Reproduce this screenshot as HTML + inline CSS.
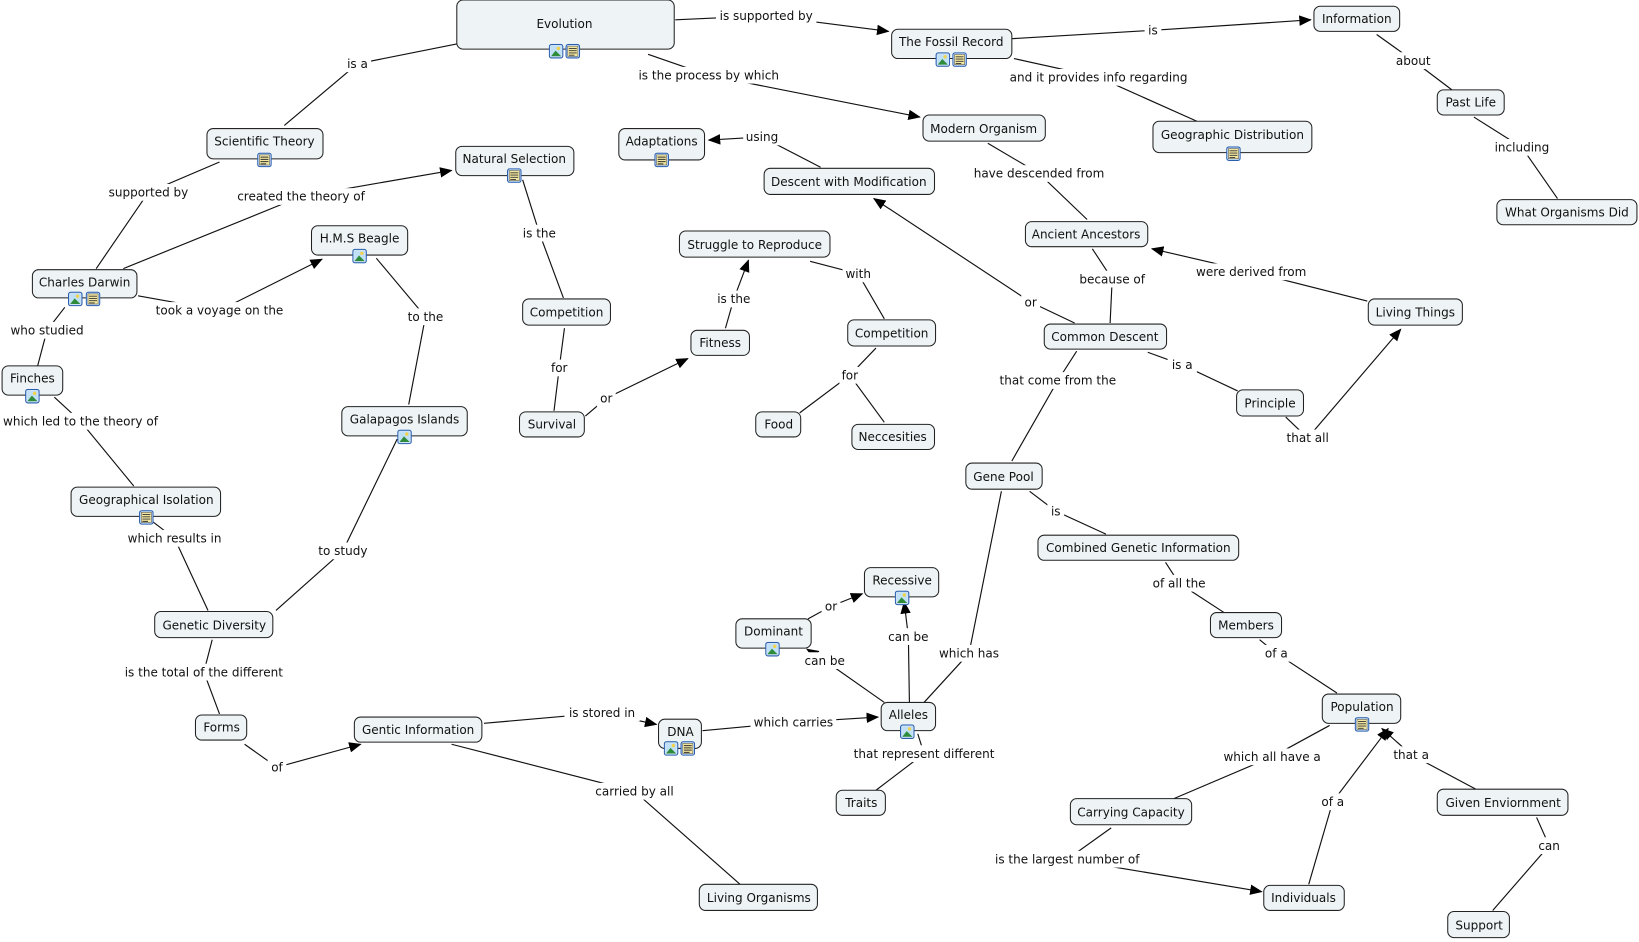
<!DOCTYPE html>
<html><head><meta charset="utf-8"><style>
html,body{margin:0;padding:0;background:#fff;}
svg{display:block;}
text{font-family:"DejaVu Sans","Liberation Sans",sans-serif;font-size:11.5px;fill:#111;}
.n rect.b{fill:#eef4f6;stroke:#222;stroke-width:1;}
.l{fill:none;stroke:#111;stroke-width:1.1;}
.lb{fill:#fff;}
</style></head><body>
<svg width="1639" height="942" viewBox="0 0 1639 942" xmlns="http://www.w3.org/2000/svg">
<defs>
<marker id="a" markerWidth="12" markerHeight="10" refX="11" refY="5" orient="auto" markerUnits="userSpaceOnUse"><path d="M0,0 L12,5 L0,10 z" fill="#000"/></marker>
<symbol id="im" viewBox="0 0 13 13"><rect x="0.5" y="0.5" width="12" height="12" rx="2" fill="#cfe3f7" stroke="#2a5fb0"/><rect x="2" y="2" width="9" height="9" fill="#bfe0f5"/><path d="M2,11 L6,6 L11,11z" fill="#2e8b3a"/><circle cx="8.5" cy="4" r="1.5" fill="#f1d24a"/></symbol>
<symbol id="dc" viewBox="0 0 13 13"><rect x="0.5" y="0.5" width="12" height="12" rx="2" fill="#cfe3f7" stroke="#2a5fb0"/><rect x="2" y="2" width="9" height="9" fill="#f3e7a0" stroke="#555" stroke-width="0.5"/><path d="M3,4h7M3,6h7M3,8h7M3,10h5" stroke="#333" stroke-width="0.8"/></symbol>
</defs>
<g transform="scale(1.0453)">
<!-- links -->
<g class="l">
<polyline points="437,42 342,61 272,120"/>
<polyline points="646,19 733,15 850,30" marker-end="url(#a)"/>
<polyline points="620,52 678,72 880,112" marker-end="url(#a)"/>
<polyline points="968,37 1103,29 1254,19" marker-end="url(#a)"/>
<polyline points="970,56 1051,74 1145,116"/>
<polyline points="1317,33 1352,58 1389,86"/>
<polyline points="1410,112 1456,141 1490,190"/>
<polyline points="945,137 994,166 1040,210"/>
<polyline points="785,160 729,131 678,134" marker-end="url(#a)"/>
<polyline points="1028,309 986,289 836,190" marker-end="url(#a)"/>
<polyline points="1062,309 1064,267 1045,238"/>
<polyline points="1308,288 1197,260 1102,238" marker-end="url(#a)"/>
<polyline points="1098,337 1131,349 1184,374"/>
<polyline points="1230,399 1251,419 1340,315" marker-end="url(#a)"/>
<polyline points="1030,336 1012,364 968,441"/>
<polyline points="985,470 1010,489 1058,511"/>
<polyline points="1115,538 1128,558 1171,586"/>
<polyline points="1205,612 1221,625 1279,663"/>
<polyline points="1272,694 1217,724 1123,764"/>
<polyline points="1063,792 1021,822 1207,853" marker-end="url(#a)"/>
<polyline points="1252,846 1275,767 1328,697" marker-end="url(#a)"/>
<polyline points="1412,755 1350,722 1322,697" marker-end="url(#a)"/>
<polyline points="1470,782 1482,809 1428,871"/>
<polyline points="958,470 927,625 884,672"/>
<polyline points="870,672 869,609 865,576" marker-end="url(#a)"/>
<polyline points="846,672 789,632 772,621" marker-end="url(#a)"/>
<polyline points="773,592 795,580 825,568" marker-end="url(#a)"/>
<polyline points="878,702 884,721 838,756"/>
<polyline points="672,699 759,691 840,686" marker-end="url(#a)"/>
<polyline points="463,692 576,682 628,693" marker-end="url(#a)"/>
<polyline points="432,712 607,757 708,846"/>
<polyline points="234,712 265,734 345,712" marker-end="url(#a)"/>
<polyline points="203,612 195,643 210,683"/>
<polyline points="142,496 167,515 199,584"/>
<polyline points="52,380 77,403 128,465"/>
<polyline points="62,294 45,316 36,350"/>
<polyline points="210,155 142,184 92,257"/>
<polyline points="118,257 288,188 432,163" marker-end="url(#a)"/>
<polyline points="132,283 210,297 308,248" marker-end="url(#a)"/>
<polyline points="360,247 407,303 391,387"/>
<polyline points="380,420 328,527 264,584"/>
<polyline points="500,172 516,223 539,285"/>
<polyline points="540,314 535,352 530,393"/>
<polyline points="560,398 580,381 658,343" marker-end="url(#a)"/>
<polyline points="694,314 702,286 716,249" marker-end="url(#a)"/>
<polyline points="775,250 821,262 846,305"/>
<polyline points="838,333 813,359 765,395"/>
<polyline points="813,359 846,404"/>
</g>

<!-- link labels -->
<g text-anchor="middle">
<rect class="lb" x="329" y="53" width="26" height="16"/><text x="342" y="65">is a</text>
<rect class="lb" x="685" y="7" width="96" height="16"/><text x="733" y="19">is supported by</text>
<rect class="lb" x="609" y="64" width="138" height="16"/><text x="678" y="76">is the process by which</text>
<rect class="lb" x="1095" y="21" width="16" height="16"/><text x="1103" y="33">is</text>
<rect class="lb" x="964" y="66" width="174" height="16"/><text x="1051" y="78">and it provides info regarding</text>
<rect class="lb" x="1333" y="50" width="38" height="16"/><text x="1352" y="62">about</text>
<rect class="lb" x="1429" y="133" width="54" height="16"/><text x="1456" y="145">including</text>
<rect class="lb" x="930" y="158" width="128" height="16"/><text x="994" y="170">have descended from</text>
<rect class="lb" x="711" y="123" width="36" height="16"/><text x="729" y="135">using</text>
<rect class="lb" x="977" y="281" width="18" height="16"/><text x="986" y="293">or</text>
<rect class="lb" x="1031" y="259" width="66" height="16"/><text x="1064" y="271">because of</text>
<rect class="lb" x="1142" y="252" width="110" height="16"/><text x="1197" y="264">were derived from</text>
<rect class="lb" x="1117" y="341" width="28" height="16"/><text x="1131" y="353">is a</text>
<rect class="lb" x="1227" y="411" width="48" height="16"/><text x="1251" y="423">that all</text>
<rect class="lb" x="954" y="356" width="116" height="16"/><text x="1012" y="368">that come from the</text>
<rect class="lb" x="1002" y="481" width="16" height="16"/><text x="1010" y="493">is</text>
<rect class="lb" x="1098" y="550" width="60" height="16"/><text x="1128" y="562">of all the</text>
<rect class="lb" x="1206" y="617" width="30" height="16"/><text x="1221" y="629">of a</text>
<rect class="lb" x="1166" y="716" width="102" height="16"/><text x="1217" y="728">which all have a</text>
<rect class="lb" x="947" y="814" width="148" height="16"/><text x="1021" y="826">is the largest number of</text>
<rect class="lb" x="1260" y="759" width="30" height="16"/><text x="1275" y="771">of a</text>
<rect class="lb" x="1330" y="714" width="40" height="16"/><text x="1350" y="726">that a</text>
<rect class="lb" x="1469" y="801" width="26" height="16"/><text x="1482" y="813">can</text>
<rect class="lb" x="896" y="617" width="62" height="16"/><text x="927" y="629">which has</text>
<rect class="lb" x="848" y="601" width="42" height="16"/><text x="869" y="613">can be</text>
<rect class="lb" x="768" y="624" width="42" height="16"/><text x="789" y="636">can be</text>
<rect class="lb" x="786" y="572" width="18" height="16"/><text x="795" y="584">or</text>
<rect class="lb" x="814" y="713" width="140" height="16"/><text x="884" y="725">that represent different</text>
<rect class="lb" x="718" y="683" width="82" height="16"/><text x="759" y="695">which carries</text>
<rect class="lb" x="540" y="674" width="72" height="16"/><text x="576" y="686">is stored in</text>
<rect class="lb" x="566" y="749" width="82" height="16"/><text x="607" y="761">carried by all</text>
<rect class="lb" x="256" y="726" width="18" height="16"/><text x="265" y="738">of</text>
<rect class="lb" x="117" y="635" width="156" height="16"/><text x="195" y="647">is the total of the different</text>
<rect class="lb" x="120" y="507" width="94" height="16"/><text x="167" y="519">which results in</text>
<rect class="lb" x="2" y="395" width="150" height="16"/><text x="77" y="407">which led to the theory of</text>
<rect class="lb" x="9" y="308" width="72" height="16"/><text x="45" y="320">who studied</text>
<rect class="lb" x="103" y="176" width="78" height="16"/><text x="142" y="188">supported by</text>
<rect class="lb" x="225" y="180" width="126" height="16"/><text x="288" y="192">created the theory of</text>
<rect class="lb" x="148" y="289" width="124" height="16"/><text x="210" y="301">took a voyage on the</text>
<rect class="lb" x="388" y="295" width="38" height="16"/><text x="407" y="307">to the</text>
<rect class="lb" x="301" y="519" width="54" height="16"/><text x="328" y="531">to study</text>
<rect class="lb" x="497" y="215" width="38" height="16"/><text x="516" y="227">is the</text>
<rect class="lb" x="525" y="344" width="20" height="16"/><text x="535" y="356">for</text>
<rect class="lb" x="571" y="373" width="18" height="16"/><text x="580" y="385">or</text>
<rect class="lb" x="683" y="278" width="38" height="16"/><text x="702" y="290">is the</text>
<rect class="lb" x="806" y="254" width="30" height="16"/><text x="821" y="266">with</text>
<rect class="lb" x="803" y="351" width="20" height="16"/><text x="813" y="363">for</text>
</g>

<!-- nodes -->
<g class="n" text-anchor="middle">
<rect class="b" x="437" y="0" width="208" height="47" rx="6"/><text x="540" y="27">Evolution</text>
<rect class="b" x="853" y="28" width="115" height="28" rx="6"/><text x="910" y="44">The Fossil Record</text>
<rect class="b" x="1257" y="6" width="82" height="24" rx="6"/><text x="1298" y="22">Information</text>
<rect class="b" x="1375" y="86" width="64" height="24" rx="6"/><text x="1407" y="102">Past Life</text>
<rect class="b" x="1432" y="191" width="134" height="24" rx="6"/><text x="1499" y="207">What Organisms Did</text>
<rect class="b" x="1103" y="116" width="152" height="30" rx="6"/><text x="1179" y="133">Geographic Distribution</text>
<rect class="b" x="883" y="110" width="117" height="25" rx="6"/><text x="941" y="127">Modern Organism</text>
<rect class="b" x="592" y="123" width="82" height="30" rx="6"/><text x="633" y="139">Adaptations</text>
<rect class="b" x="731" y="161" width="163" height="25" rx="6"/><text x="812" y="178">Descent with Modification</text>
<rect class="b" x="981" y="212" width="117" height="24" rx="6"/><text x="1039" y="228">Ancient Ancestors</text>
<rect class="b" x="198" y="123" width="111" height="29" rx="6"/><text x="253" y="139">Scientific Theory</text>
<rect class="b" x="436" y="140" width="113" height="28" rx="6"/><text x="492" y="156">Natural Selection</text>
<rect class="b" x="298" y="216" width="92" height="28" rx="6"/><text x="344" y="232">H.M.S Beagle</text>
<rect class="b" x="31" y="258" width="100" height="27" rx="6"/><text x="81" y="274">Charles Darwin</text>
<rect class="b" x="650" y="221" width="144" height="25" rx="6"/><text x="722" y="238">Struggle to Reproduce</text>
<rect class="b" x="1309" y="286" width="90" height="25" rx="6"/><text x="1354" y="303">Living Things</text>
<rect class="b" x="999" y="310" width="117" height="24" rx="6"/><text x="1057" y="326">Common Descent</text>
<rect class="b" x="500" y="286" width="84" height="25" rx="6"/><text x="542" y="303">Competition</text>
<rect class="b" x="661" y="316" width="56" height="24" rx="6"/><text x="689" y="332">Fitness</text>
<rect class="b" x="811" y="306" width="84" height="25" rx="6"/><text x="853" y="323">Competition</text>
<rect class="b" x="2" y="350" width="58" height="28" rx="6"/><text x="31" y="366">Finches</text>
<rect class="b" x="327" y="389" width="120" height="28" rx="6"/><text x="387" y="405">Galapagos Islands</text>
<rect class="b" x="497" y="394" width="62" height="24" rx="6"/><text x="528" y="410">Survival</text>
<rect class="b" x="723" y="394" width="43" height="24" rx="6"/><text x="745" y="410">Food</text>
<rect class="b" x="815" y="406" width="79" height="24" rx="6"/><text x="854" y="422">Neccesities</text>
<rect class="b" x="1183" y="373" width="64" height="25" rx="6"/><text x="1215" y="390">Principle</text>
<rect class="b" x="924" y="443" width="73" height="25" rx="6"/><text x="960" y="460">Gene Pool</text>
<rect class="b" x="68" y="466" width="143" height="28" rx="6"/><text x="140" y="482">Geographical Isolation</text>
<rect class="b" x="993" y="512" width="192" height="24" rx="6"/><text x="1089" y="528">Combined Genetic Information</text>
<rect class="b" x="827" y="543" width="71" height="28" rx="6"/><text x="863" y="559">Recessive</text>
<rect class="b" x="148" y="585" width="113" height="25" rx="6"/><text x="205" y="602">Genetic Diversity</text>
<rect class="b" x="1158" y="586" width="68" height="24" rx="6"/><text x="1192" y="602">Members</text>
<rect class="b" x="704" y="592" width="72" height="28" rx="6"/><text x="740" y="608">Dominant</text>
<rect class="b" x="1265" y="664" width="75" height="28" rx="6"/><text x="1303" y="680">Population</text>
<rect class="b" x="843" y="672" width="52" height="27" rx="6"/><text x="869" y="688">Alleles</text>
<rect class="b" x="187" y="684" width="49" height="24" rx="6"/><text x="212" y="700">Forms</text>
<rect class="b" x="339" y="686" width="122" height="24" rx="6"/><text x="400" y="702">Gentic Information</text>
<rect class="b" x="630" y="688" width="41" height="28" rx="6"/><text x="651" y="704">DNA</text>
<rect class="b" x="800" y="756" width="47" height="24" rx="6"/><text x="824" y="772">Traits</text>
<rect class="b" x="1024" y="764" width="116" height="25" rx="6"/><text x="1082" y="781">Carrying Capacity</text>
<rect class="b" x="1375" y="755" width="125" height="25" rx="6"/><text x="1438" y="772">Given Enviornment</text>
<rect class="b" x="1209" y="847" width="77" height="24" rx="6"/><text x="1247" y="863">Individuals</text>
<rect class="b" x="669" y="846" width="113" height="25" rx="6"/><text x="726" y="863">Living Organisms</text>
<rect class="b" x="1385" y="872" width="59" height="25" rx="6"/><text x="1415" y="889">Support</text>
</g>

<!-- icons -->
<use href="#im" x="525" y="42" width="14" height="14"/><use href="#dc" x="541" y="42" width="14" height="14"/>
<use href="#im" x="895" y="50" width="14" height="14"/><use href="#dc" x="911" y="50" width="14" height="14"/>
<use href="#dc" x="1173" y="140" width="14" height="14"/>
<use href="#dc" x="626" y="146" width="14" height="14"/>
<use href="#dc" x="246" y="146" width="14" height="14"/>
<use href="#dc" x="485" y="161" width="14" height="14"/>
<use href="#im" x="337" y="238" width="14" height="14"/>
<use href="#im" x="65" y="279" width="14" height="14"/><use href="#dc" x="82" y="279" width="14" height="14"/>
<use href="#im" x="24" y="372" width="14" height="14"/>
<use href="#im" x="380" y="411" width="14" height="14"/>
<use href="#dc" x="133" y="488" width="14" height="14"/>
<use href="#im" x="856" y="565" width="14" height="14"/>
<use href="#im" x="732" y="614" width="14" height="14"/>
<use href="#dc" x="1296" y="686" width="14" height="14"/>
<use href="#im" x="861" y="693" width="14" height="14"/>
<use href="#im" x="635" y="709" width="14" height="14"/><use href="#dc" x="651" y="709" width="14" height="14"/>
</g>
</svg>
</body></html>
